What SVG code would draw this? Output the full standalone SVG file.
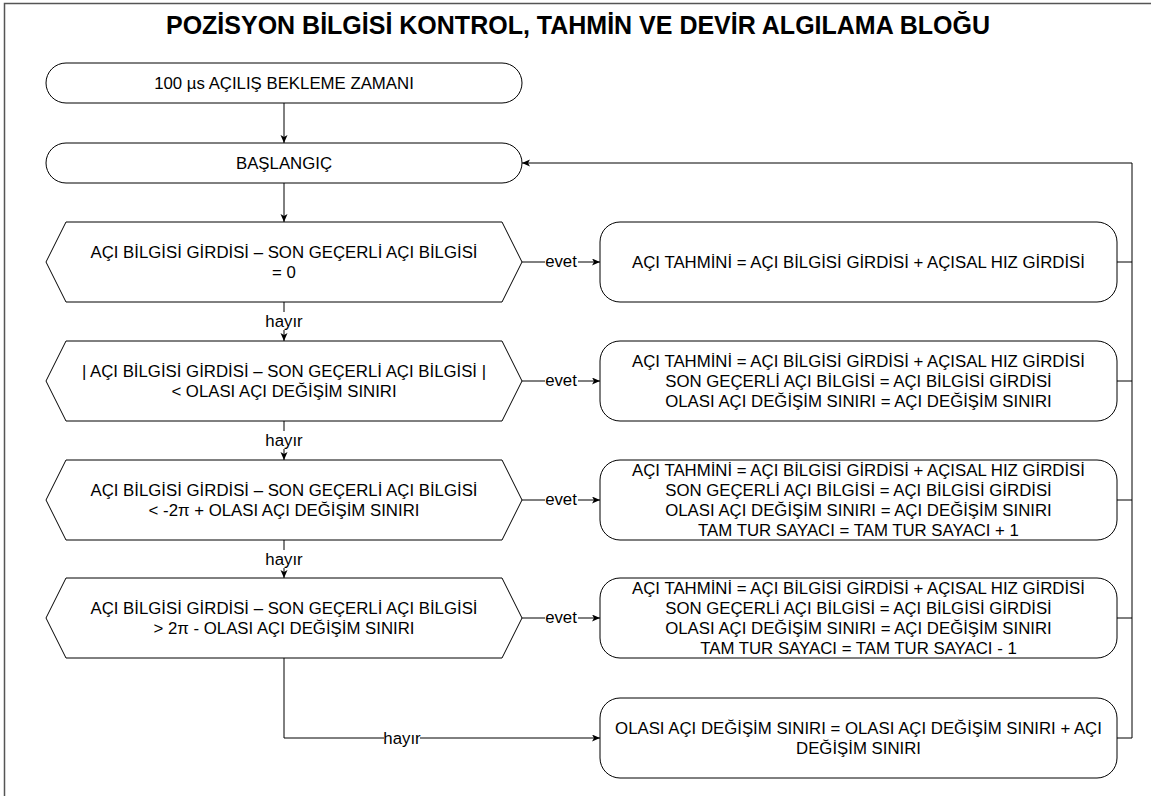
<svg xmlns="http://www.w3.org/2000/svg" width="1151" height="796" viewBox="0 0 1151 796">
<defs>
<style>
.frame{fill:none;stroke:#555;stroke-width:1.5}
.shape{fill:#fff;stroke:#000;stroke-width:1}
.edge{fill:none;stroke:#000;stroke-width:1}
.t{font-family:"Liberation Sans",Arial,Helvetica,sans-serif;font-size:16.8px;fill:#000;text-anchor:middle}
.title{font-family:"Liberation Sans",Arial,Helvetica,sans-serif;font-size:25px;font-weight:bold;fill:#000;text-anchor:middle}
.lbg{fill:#fff}
</style>
<marker id="arr" markerUnits="userSpaceOnUse" markerWidth="10" markerHeight="8" refX="8" refY="3.5" orient="auto"><path d="M0,0 L8,3.5 L0,7 L2,3.5 Z" fill="#000"/></marker>
</defs>
<rect class="frame" x="4.5" y="3.5" width="1300" height="900"/>
<text class="title" x="578" y="34">POZİSYON BİLGİSİ KONTROL, TAHMİN VE DEVİR ALGILAMA BLOĞU</text>

<g id="connectors">
<path class="edge" d="M284,103 V143" marker-end="url(#arr)"/>
<path class="edge" d="M284,183 V222" marker-end="url(#arr)"/>
<path class="edge" d="M284,302 V341" marker-end="url(#arr)"/>
<path class="edge" d="M284,421 V460" marker-end="url(#arr)"/>
<path class="edge" d="M284,540 V578" marker-end="url(#arr)"/>
<path class="edge" d="M284,658 V738 H600" marker-end="url(#arr)"/>
<path class="edge" d="M522,262 H600" marker-end="url(#arr)"/>
<path class="edge" d="M522,381 H600" marker-end="url(#arr)"/>
<path class="edge" d="M522,500 H600" marker-end="url(#arr)"/>
<path class="edge" d="M522,618 H600" marker-end="url(#arr)"/>
<path class="edge" d="M1117,738 H1132 V163 H522" marker-end="url(#arr)"/>
<path class="edge" d="M1117,262 H1132 M1117,381 H1132 M1117,500 H1132 M1117,618 H1132"/>
<rect class="lbg" x="266" y="312" width="36" height="18"/>
<text class="t" x="284" y="327">hayır</text>
<rect class="lbg" x="266" y="431" width="36" height="18"/>
<text class="t" x="284" y="446">hayır</text>
<rect class="lbg" x="266" y="550" width="36" height="18"/>
<text class="t" x="284" y="565">hayır</text>
<rect class="lbg" x="384" y="729" width="36" height="18"/>
<text class="t" x="402" y="744">hayır</text>
<rect class="lbg" x="545" y="254" width="33" height="16"/>
<text class="t" x="561" y="267">evet</text>
<rect class="lbg" x="545" y="373" width="33" height="16"/>
<text class="t" x="561" y="386">evet</text>
<rect class="lbg" x="545" y="492" width="33" height="16"/>
<text class="t" x="561" y="505">evet</text>
<rect class="lbg" x="545" y="610" width="33" height="16"/>
<text class="t" x="561" y="623">evet</text>
</g>

<g id="n-wait">
<rect class="shape" x="46" y="63" width="476" height="40" rx="20" ry="20"/>
<text class="t" x="284" y="89">100 µs AÇILIŞ BEKLEME ZAMANI</text>
</g>
<g id="n-start">
<rect class="shape" x="46" y="143" width="476" height="40" rx="20" ry="20"/>
<text class="t" x="284" y="169">BAŞLANGIÇ</text>
</g>

<g id="d1">
<polygon class="shape" points="46,262 66,222 502,222 522,262 502,302 66,302"/>
<text class="t" x="284" y="258">AÇI BİLGİSİ GİRDİSİ – SON GEÇERLİ AÇI BİLGİSİ</text>
<text class="t" x="284" y="278">= 0</text>
</g>
<g id="d2">
<polygon class="shape" points="46,381 66,341 502,341 522,381 502,421 66,421"/>
<text class="t" x="284" y="377">| AÇI BİLGİSİ GİRDİSİ – SON GEÇERLİ AÇI BİLGİSİ |</text>
<text class="t" x="284" y="397">&lt; OLASI AÇI DEĞİŞİM SINIRI</text>
</g>
<g id="d3">
<polygon class="shape" points="46,500 66,460 502,460 522,500 502,540 66,540"/>
<text class="t" x="284" y="496">AÇI BİLGİSİ GİRDİSİ – SON GEÇERLİ AÇI BİLGİSİ</text>
<text class="t" x="284" y="516">&lt; -2π + OLASI AÇI DEĞİŞİM SINIRI</text>
</g>
<g id="d4">
<polygon class="shape" points="46,618 66,578 502,578 522,618 502,658 66,658"/>
<text class="t" x="284" y="614">AÇI BİLGİSİ GİRDİSİ – SON GEÇERLİ AÇI BİLGİSİ</text>
<text class="t" x="284" y="634">&gt; 2π - OLASI AÇI DEĞİŞİM SINIRI</text>
</g>

<g id="b1">
<rect class="shape" x="600" y="222" width="517" height="80" rx="20" ry="20"/>
<text class="t" x="858.5" y="268">AÇI TAHMİNİ = AÇI BİLGİSİ GİRDİSİ + AÇISAL HIZ GİRDİSİ</text>
</g>
<g id="b2">
<rect class="shape" x="600" y="341" width="517" height="80" rx="20" ry="20"/>
<text class="t" x="858.5" y="367">AÇI TAHMİNİ = AÇI BİLGİSİ GİRDİSİ + AÇISAL HIZ GİRDİSİ</text>
<text class="t" x="858.5" y="387">SON GEÇERLİ AÇI BİLGİSİ = AÇI BİLGİSİ GİRDİSİ</text>
<text class="t" x="858.5" y="407">OLASI AÇI DEĞİŞİM SINIRI = AÇI DEĞİŞİM SINIRI</text>
</g>
<g id="b3">
<rect class="shape" x="600" y="460" width="517" height="80" rx="20" ry="20"/>
<text class="t" x="858.5" y="476">AÇI TAHMİNİ = AÇI BİLGİSİ GİRDİSİ + AÇISAL HIZ GİRDİSİ</text>
<text class="t" x="858.5" y="496">SON GEÇERLİ AÇI BİLGİSİ = AÇI BİLGİSİ GİRDİSİ</text>
<text class="t" x="858.5" y="516">OLASI AÇI DEĞİŞİM SINIRI = AÇI DEĞİŞİM SINIRI</text>
<text class="t" x="858.5" y="536">TAM TUR SAYACI = TAM TUR SAYACI + 1</text>
</g>
<g id="b4">
<rect class="shape" x="600" y="578" width="517" height="80" rx="20" ry="20"/>
<text class="t" x="858.5" y="594">AÇI TAHMİNİ = AÇI BİLGİSİ GİRDİSİ + AÇISAL HIZ GİRDİSİ</text>
<text class="t" x="858.5" y="614">SON GEÇERLİ AÇI BİLGİSİ = AÇI BİLGİSİ GİRDİSİ</text>
<text class="t" x="858.5" y="634">OLASI AÇI DEĞİŞİM SINIRI = AÇI DEĞİŞİM SINIRI</text>
<text class="t" x="858.5" y="654">TAM TUR SAYACI = TAM TUR SAYACI - 1</text>
</g>
<g id="b5">
<rect class="shape" x="600" y="698" width="517" height="80" rx="20" ry="20"/>
<text class="t" x="858.5" y="734">OLASI AÇI DEĞİŞİM SINIRI = OLASI AÇI DEĞİŞİM SINIRI + AÇI</text>
<text class="t" x="858.5" y="754">DEĞİŞİM SINIRI</text>
</g>
</svg>
